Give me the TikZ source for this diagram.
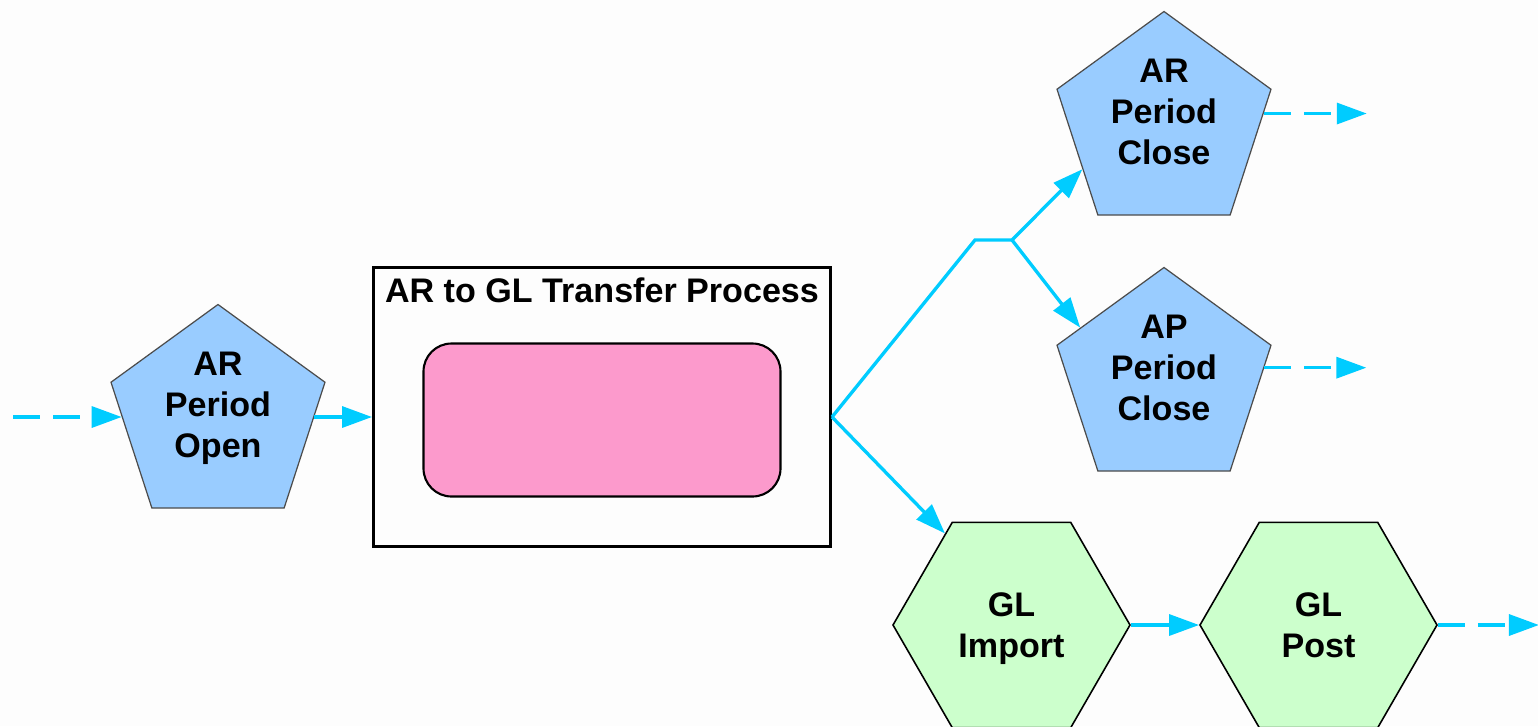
\documentclass[tikz,border=0pt]{standalone}
\usepackage{fontspec}
\setmainfont{Liberation Sans}
\usetikzlibrary{calc}
\usetikzlibrary{shapes.geometric}
\usetikzlibrary{arrows.meta}
\definecolor{flowcyan}{RGB}{0,204,255}
\definecolor{periodblue}{RGB}{153,204,255}
\definecolor{ledgergreen}{RGB}{204,255,204}
\definecolor{taskpink}{RGB}{252,154,204}
\definecolor{pagebg}{RGB}{253,253,253}

\begin{document}
\begin{tikzpicture}[font=\fontsize{9.7}{11.7}\selectfont\bfseries]
            \tikzstyle{period shape} = [regular polygon, regular polygon sides=5, minimum size=2.25cm, inner sep=0pt, draw=black!70, line width=0.35pt, fill=periodblue]
            \tikzstyle{period text} = [align=center, text depth=0pt, yshift=0.125cm]
            \tikzstyle{ledger shape} = [regular polygon, regular polygon sides=6, minimum size=2.37cm, inner sep=0pt, draw=black, line width=0.45pt, fill=ledgergreen, align=center, text depth=0pt]
            \tikzstyle{cyan flow} = [flowcyan, line width=0.95pt, -{Triangle[length=0.30cm, width=0.21cm]}]
            \tikzstyle{cyan dashed} = [cyan flow, dash pattern=on 0.27cm off 0.13cm]
            \path[fill=pagebg, use as bounding box] (0, 0) rectangle (15.38, 7.26);
            % process steps
            \node[period shape, label={[period text]center:{AR\\Period\\Open}}] (open) at (2.18, 3.09) {};
            \node[draw, line width=0.85pt, minimum width=4.57cm, minimum height=2.79cm, inner sep=0pt] (box) at (6.02, 3.19) {};
            \node[anchor=base] (title) at ([yshift=-0.36cm]box.north) {AR to GL Transfer Process};
            \node[draw, fill=taskpink, line width=0.6pt, rounded corners=0.28cm, minimum width=3.57cm, minimum height=1.53cm, inner sep=0pt] (task) at (6.02, 3.06) {};
            \node[period shape, label={[period text]center:{AR\\Period\\Close}}] (arclose) at (11.64, 6.02) {};
            \node[period shape, label={[period text]center:{AP\\Period\\Close}}] (apclose) at (11.64, 3.46) {};
            \node[ledger shape] (import) at (10.115, 1.01) {GL\\Import};
            \node[ledger shape] (post) at (13.185, 1.01) {GL\\Post};
            % connectors
            \coordinate (entry) at (0.13, 3.09);
            \coordinate (split) at (box.east |- open);
            \coordinate (fork) at (9.75, 4.86);
            \coordinate (knot) at (10.12, 4.86);
            \coordinate (arout) at ($(arclose.6) + (1.03, 0)$);
            \coordinate (apout) at ($(apclose.7) + (1.02, 0)$);
            \coordinate (glout) at ($(post.0) + (1.01, 0)$);
            \draw[cyan dashed] (entry) -- (open);
            \draw[cyan flow] (open.0) -- (open.0 -| box.west);
            \draw[cyan flow] (split) -- (fork) -- (knot) -- (arclose.209);
            \draw[cyan flow] (knot) -- (apclose.148);
            \draw[cyan flow] (split) -- (import.126);
            \draw[cyan flow] (import.0) -- (post.180);
            \draw[cyan dashed] (arclose.6) -- (arout);
            \draw[cyan dashed] (apclose.7) -- (apout);
            \draw[cyan dashed] (post.0) -- (glout);
        \end{tikzpicture}
\end{document}
